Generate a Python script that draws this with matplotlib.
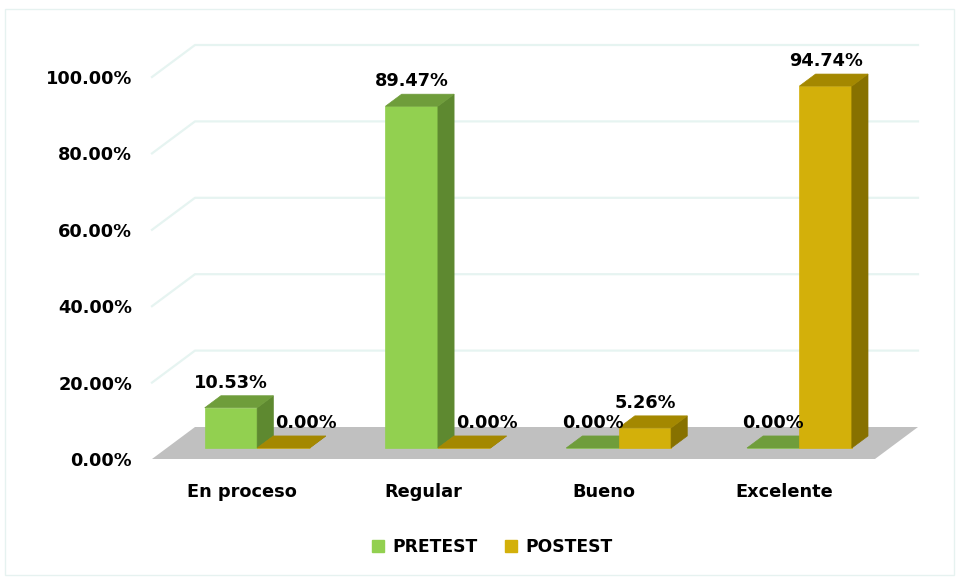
import matplotlib
matplotlib.use('Agg')
import matplotlib.pyplot as plt
from matplotlib.patches import Polygon, Rectangle
from matplotlib.lines import Line2D
from matplotlib.ticker import FuncFormatter

# datos
categorias = ['En proceso', 'Regular', 'Bueno', 'Excelente']
pretest = [10.53, 89.47, 0.00, 0.00]
postest = [0.00, 0.00, 5.26, 94.74]
series = ['PRETEST', 'POSTEST']
ticks_y = [0, 20, 40, 60, 80, 100]

# colores: frente, techo, lado
verde = ('#92d050', '#6f9d3b', '#5e8930')
oro = ('#d3b00a', '#a48800', '#877100')
piso = '#c0c0c0'
rejilla = '#e6f4f1'

W, H = 956, 577
fig = plt.figure(figsize=(W / 100, H / 100), dpi=100)
ax = fig.add_axes([152 / W, 1 - 459 / H, (875 - 152) / W, (459 - 77) / H])
ax.set_xlim(-0.5, len(categorias) - 0.5)
ax.set_ylim(0, 100)

# profundidad oblicua (en unidades de datos)
px_x = (875 - 152) / len(categorias)
px_y = (459 - 77) / 100
DX = 43 / px_x
DY = 32 / px_y
d0, d1 = 0.344, 0.72
ancho = 0.29

x0, x1 = -0.5, len(categorias) - 0.5

# paredes: rejilla al fondo y en la pared izquierda
for v in ticks_y[1:]:
    ax.plot([x0, x0 + DX, x1 + DX], [v, v + DY, v + DY], color=rejilla,
            lw=1.6, clip_on=False, zorder=1)

# piso
ax.add_patch(Polygon([(x0, 0), (x1, 0), (x1 + DX, DY), (x0 + DX, DY)],
                     closed=True, facecolor=piso, edgecolor='none',
                     clip_on=False, zorder=2))


def barra(xl, h, cols):
    """Barra con caras frontal, superior y lateral."""
    xr = xl + ancho
    ox0, oy0 = DX * d0, DY * d0
    ox1, oy1 = DX * d1, DY * d1
    frente = [(xl + ox0, oy0), (xr + ox0, oy0), (xr + ox0, h + oy0), (xl + ox0, h + oy0)]
    techo = [(xl + ox0, h + oy0), (xr + ox0, h + oy0), (xr + ox1, h + oy1), (xl + ox1, h + oy1)]
    lado = [(xr + ox0, oy0), (xr + ox1, oy1), (xr + ox1, h + oy1), (xr + ox0, h + oy0)]
    for pts, c in ((frente, cols[0]), (lado, cols[2]), (techo, cols[1])):
        ax.add_patch(Polygon(pts, closed=True, facecolor=c, edgecolor=c,
                             lw=0.5, clip_on=False, zorder=3))


# etiquetas de 0.00% del postest corridas a la derecha
etiqueta_dx = {(0, 1): 0.127, (1, 1): 0.127}

for i in range(len(categorias)):
    for j, (vals, cols) in enumerate(((pretest, verde), (postest, oro))):
        h = vals[i]
        xl = i - ancho + j * ancho
        barra(xl, h, cols)
        xc = xl + ancho / 2 + DX * d0 + etiqueta_dx.get((i, j), 0)
        ax.text(xc, h + DY * d1 + 13 / px_y, f'{h:.2f}%', ha='center',
                va='center', fontsize=12.8, fontweight='bold', color='black',
                zorder=6, clip_on=False)

# ejes
ax.set_yticks(ticks_y)
ax.yaxis.set_major_formatter(FuncFormatter(lambda v, p: f'{v:.2f}%'))
ax.set_xticks(range(len(categorias)))
ax.set_xticklabels(categorias)
ax.tick_params(axis='y', length=0, pad=14.4, labelsize=12.8, labelcolor='black')
ax.tick_params(axis='x', length=0, pad=17, labelsize=12.8, labelcolor='black')
for lbl in ax.get_xticklabels() + ax.get_yticklabels():
    lbl.set_fontweight('bold')
for s in ax.spines.values():
    s.set_visible(False)
ax.patch.set_visible(False)

# leyenda
manijas = [Line2D([], [], marker='s', ls='none', markersize=9,
                  markerfacecolor=c[0], markeredgecolor=c[0]) for c in (verde, oro)]
fig.legend(manijas, series, loc='center', bbox_to_anchor=(492 / W, 1 - 547 / H),
           ncol=2, frameon=False, handlelength=0.8, handletextpad=0.4,
           columnspacing=1.6, prop={'weight': 'bold', 'size': 12.3})

# borde del area del grafico
fig.add_artist(Rectangle((5 / W, 2 / H), 949 / W, 566 / H, transform=fig.transFigure,
                         fill=False, edgecolor='#e6f2f0', lw=1))

fig.savefig('out.png', dpi=100)
